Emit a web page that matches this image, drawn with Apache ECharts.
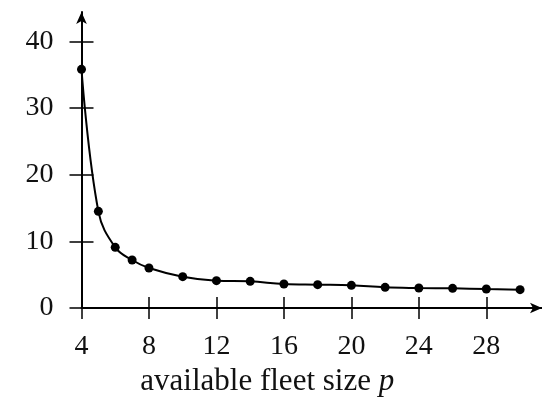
<!DOCTYPE html>
<html>
<head>
<meta charset="utf-8">
<script src="https://cdn.jsdelivr.net/npm/echarts@6/dist/echarts.min.js"></script>
<style>
  html, body { margin: 0; padding: 0; background: #fff; }
  #chart { width: 542px; height: 400px; }
</style>
</head>
<body>
<div id="chart"></div>
<script>
  // fleet size p and the plotted value
  var fleetSize = [4, 5, 6, 7, 8, 10, 12, 14, 16, 18, 20, 22, 24, 26, 28, 30];
  var values = [35.8, 14.5, 9.1, 7.2, 6.0, 4.7, 4.1, 4.0, 3.6, 3.5, 3.4, 3.1, 3.0, 2.95, 2.85, 2.75];
  var xTicks = [4, 8, 12, 16, 20, 24, 28];
  var yTicks = [0, 10, 20, 30, 40];

  var font = 'Liberation Serif';
  var gridPos = { left: 81.5, right: 0, top: 12, bottom: 92, outerBoundsMode: 'none', containLabel: false };
  var xMax = 31.3, yMax = 44.4;

  var chart = echarts.init(document.getElementById('chart'));
  chart.setOption({
    animation: false,
    grid: [
      Object.assign({}, gridPos),
      Object.assign({}, gridPos)
    ],
    xAxis: [{
      type: 'value', gridIndex: 0, min: 4, max: xMax,
      splitLine: { show: false },
      axisLine: { onZero: false, symbol: ['none', 'arrow'], symbolSize: [8, 12], lineStyle: { color: '#000', width: 2 } },
      axisTick: { inside: true, length: 11, customValues: xTicks, lineStyle: { color: '#000', width: 1.5 } },
      axisLabel: { customValues: xTicks, margin: 25, color: '#111', fontFamily: font, fontSize: 28 },
      name: '{a|available fleet size }{p|p}',
      nameLocation: 'middle',
      nameGap: 58,
      nameTextStyle: {
        padding: [0, 89, 0, 0],
        rich: {
          a: { fontFamily: font, fontSize: 31, color: '#111' },
          p: { fontFamily: font, fontSize: 31, fontStyle: 'italic', color: '#111' }
        }
      }
    }, {
      type: 'value', gridIndex: 1, min: 4, max: xMax,
      splitLine: { show: false },
      axisLine: { show: false },
      axisTick: { length: 11, customValues: xTicks, lineStyle: { color: '#000', width: 1.5 } },
      axisLabel: { show: false }
    }],
    yAxis: [{
      type: 'value', gridIndex: 0, min: 0, max: yMax,
      splitLine: { show: false },
      axisLine: { onZero: false, symbol: ['none', 'arrow'], symbolSize: [8, 12], lineStyle: { color: '#000', width: 2 } },
      axisTick: { inside: true, length: 12, customValues: yTicks, lineStyle: { color: '#000', width: 1.5 } },
      axisLabel: { customValues: yTicks, margin: 28, color: '#111', fontFamily: font, fontSize: 28 }
    }, {
      type: 'value', gridIndex: 1, min: 0, max: yMax,
      splitLine: { show: false },
      axisLine: { show: false },
      axisTick: { length: 12, customValues: yTicks, lineStyle: { color: '#000', width: 1.5 } },
      axisLabel: { show: false }
    }],
    series: [{
      type: 'line',
      xAxisIndex: 0, yAxisIndex: 0,
      data: fleetSize.map(function (p, i) { return [p, values[i]]; }),
      smooth: 0.4,
      symbol: 'circle',
      symbolSize: 9,
      itemStyle: { color: '#000' },
      lineStyle: { color: '#000', width: 2 }
    }]
  });
</script>
</body>
</html>
